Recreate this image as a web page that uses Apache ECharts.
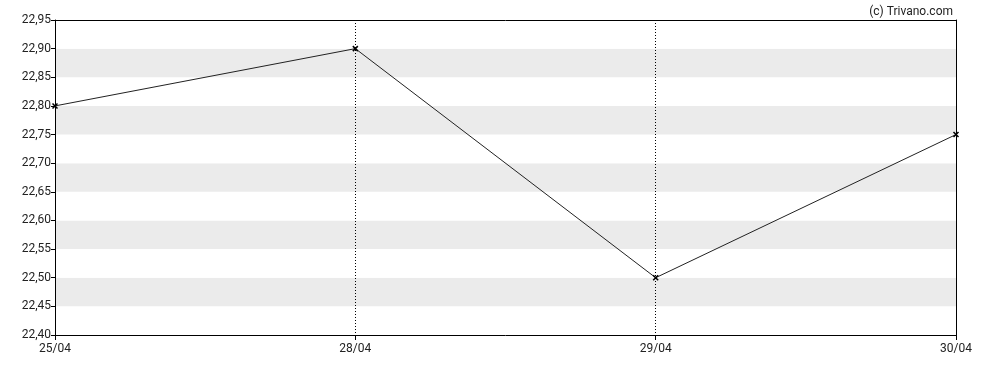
<!DOCTYPE html>
<html><head><meta charset="utf-8">
<script src="https://cdn.jsdelivr.net/npm/echarts@6/dist/echarts.min.js"></script>
<style>html,body{margin:0;padding:0;background:#fff}#c{width:988px;height:370px}</style>
</head><body><div id="c"></div>
<script>
const categories = ['25/04', '28/04', '29/04', '30/04'];
const prices = [22.80, 22.90, 22.50, 22.75];
const yMin = 22.40, yMax = 22.95, yStep = 0.05;

const chart = echarts.init(document.getElementById('c'), null, {renderer: 'canvas'});
const font = 'Roboto, Arial, sans-serif';
chart.setOption({
  animation: false,
  backgroundColor: '#fff',
  title: {text: '(c) Trivano.com', right: 30, top: 1, textStyle: {fontFamily: font, fontSize: 12, fontWeight: 'normal', color: '#222'}},
  grid: {left: 55, right: 32, top: 20, bottom: 35},
  xAxis: [{
    type: 'category', data: categories, boundaryGap: false,
    axisLine: {lineStyle: {color: '#000', width: 1}},
    axisTick: {show: true, length: 5, lineStyle: {color: '#000'}},
    axisLabel: {fontFamily: font, fontSize: 12, color: '#222', margin: 8},
    splitLine: {show: true, lineStyle: {color: '#000', type: [1, 2], width: 1}}
  }, {
    type: 'category', data: categories, boundaryGap: false, position: 'top',
    axisLine: {lineStyle: {color: '#000'}}, axisTick: {show: false}, axisLabel: {show: false}
  }],
  yAxis: [{
    type: 'value', min: yMin, max: yMax, interval: yStep,
    axisLine: {show: true, lineStyle: {color: '#000'}},
    axisTick: {show: true, length: 4, lineStyle: {color: '#000'}},
    axisLabel: {fontFamily: font, fontSize: 12, color: '#222', margin: 4,
      formatter: v => v.toFixed(2).replace('.', ',')},
    splitLine: {show: false},
    splitArea: {show: true, areaStyle: {color: ['#ffffff', '#ebebeb']}}
  }, {
    type: 'value', min: yMin, max: yMax, interval: yStep, position: 'right',
    axisLine: {show: true, lineStyle: {color: '#000'}}, axisTick: {show: false}, axisLabel: {show: false},
    splitLine: {show: false}
  }],
  series: [{
    type: 'line', data: prices,
    lineStyle: {color: '#222', width: 1},
    symbol: 'path://M0,0L10,10M10,0L0,10', symbolSize: 5,
    itemStyle: {color: 'transparent', borderColor: '#000', borderWidth: 1.5},
    z: 5
  }]
});
</script></body></html>
